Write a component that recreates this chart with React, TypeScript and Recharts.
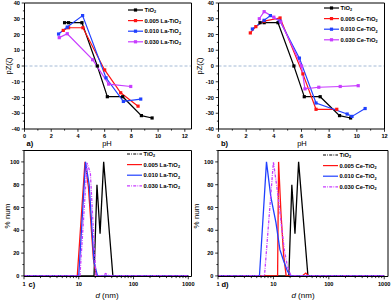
import React from "react";
import { Line, LineChart, ReferenceLine, XAxis, YAxis } from "recharts";

const FONT = "'Liberation Sans', Arial, sans-serif";
const BLACK = "#000000";
const RED = "#ff1414";
const BLUE = "#2040ff";
const VIOLET = "#c83cff";

// zeta potential vs pH (panels a, b)
const tio2PH = [3.0, 3.3, 4.3, 5.45, 6.2, 7.35, 8.75, 9.55];
const tio2Zeta = [27.5, 27.5, 27.5, 0, -19.5, -19.5, -31.5, -33];
const la005PH = [2.9, 3.3, 4.37, 6.0, 7.2, 8.5];
const la005Zeta = [22.6, 24.3, 24.3, -2.5, -17, -25.5];
const la010PH = [2.55, 3.2, 4.35, 6.1, 7.4, 8.7];
const la010Zeta = [20.3, 24.7, 32, -7.5, -22.5, -21];
const la030PH = [2.6, 3.2, 5.1, 6.3, 7.95];
const la030Zeta = [18, 20.5, 4, -11.5, -13];
const ce005PH = [2.3, 2.7, 3.3, 4.45, 6.1, 7.05, 8.55];
const ce005Zeta = [21, 25, 28.5, 30.5, -5, -27.5, -27.5];
const ce010PH = [2.45, 3.3, 3.75, 4.45, 5.85, 7.05, 9.3, 9.65, 10.6];
const ce010Zeta = [23.5, 29, 32, 28.5, 5, -23.5, -30.5, -32, -27];
const ce030PH = [2.95, 3.3, 4.0, 4.5, 6.0, 6.25, 7.25, 8.8, 10.1];
const ce030Zeta = [30, 34.5, 31, 28, 0, -14.5, -13.5, -13, -12.5];

// size distribution (panels c, d)
const tio2D = [1, 19, 21.5, 24.5, 28.5, 42, 1000];
const tio2Num = [0, 0, 80, 37, 100, 0, 0];
const la005D = [1, 9.4, 13, 15, 18.5, 21, 1000];
const la005Num = [0, 0, 100, 78, 15, 0, 0];
const la010D = [1, 10, 13.3, 15.5, 19, 22, 1000];
const la010Num = [0, 0, 100, 80, 12, 0, 0];
const la030D = [1, 10.5, 14.2, 16.3, 18.5, 20.6, 27, 31, 36, 1000];
const la030Num = [0, 0, 99, 90, 40, 0, 0, 2, 0, 0];
const ce005D = [1, 11.9, 12.4, 13.7, 15.3, 17, 33, 38.5, 43, 1000];
const ce005Num = [0, 0, 100, 55, 18, 0, 0, 2.5, 0, 0];
const ce010D = [1, 5.6, 7.5, 9, 11.1, 13.1, 15.1, 18, 20.8, 1000];
const ce010Num = [0, 0, 100, 69, 47, 23, 14, 4, 0, 0];
const ce030D = [1, 6.9, 10, 12, 13.7, 15.7, 18, 20.8, 1000];
const ce030Num = [0, 0, 100, 72, 48, 23, 8, 0, 0];

const pHTicks = [0, 1, 2, 3, 4, 5, 6, 7, 8, 9, 10, 11, 12];
const zetaTicks = [-40, -35, -30, -25, -20, -15, -10, -5, 0, 5, 10, 15, 20, 25, 30, 35, 40];
const numTicks = [0, 10, 20, 30, 40, 50, 60, 70, 80, 90, 100, 110];
const logTicks = [
  1, 2, 3, 4, 5, 6, 7, 8, 9, 10, 20, 30, 40, 50, 60, 70, 80, 90,
  100, 200, 300, 400, 500, 600, 700, 800, 900, 1000,
];

const laNames = ["TiO", "0.005 La-TiO", "0.010 La-TiO", "0.030 La-TiO"];
const ceNames = ["TiO", "0.005 Ce-TiO", "0.010 Ce-TiO", "0.030 Ce-TiO"];
const colors = [BLACK, RED, BLUE, VIOLET];

const zip = (xs: number[], ys: number[]) => xs.map((x, i) => ({ x, y: ys[i] }));

const leftTick = (isMajor: (v: number) => boolean) => (p: any) => {
  const v = p.payload.value;
  const major = isMajor(v);
  const len = major ? 2.8 : 1.6;
  return (
    <g>
      <line x1={p.x - len} x2={p.x} y1={p.y} y2={p.y} stroke={BLACK} strokeWidth={0.8} />
      {major && (
        <text x={p.x - 4.6} y={p.y} dy="0.36em" textAnchor="end" fontSize={5.6} fontWeight="bold" fontFamily={FONT} fill={BLACK}>
          {v}
        </text>
      )}
    </g>
  );
};

const bottomTick = (isMajor: (v: number) => boolean) => (p: any) => {
  const v = p.payload.value;
  const major = isMajor(v);
  const len = major ? 2.8 : 1.6;
  return (
    <g>
      <line x1={p.x} x2={p.x} y1={p.y} y2={p.y + len} stroke={BLACK} strokeWidth={0.8} />
      {major && (
        <text x={p.x} y={p.y + 9} textAnchor="middle" fontSize={5.6} fontWeight="bold" fontFamily={FONT} fill={BLACK}>
          {v}
        </text>
      )}
    </g>
  );
};

const square = (color: string) => (p: any) => (
  <rect key={p.index} x={p.cx - 1.6} y={p.cy - 1.6} width={3.2} height={3.2} fill={color} />
);

function Key({ left, top, names, dashes, markers }: { left: number; top: number; names: string[]; dashes: (string | undefined)[]; markers: boolean }) {
  return (
    <svg style={{ position: "absolute", left, top, overflow: "visible" }} width={64} height={44}>
      {names.map((n, i) => (
        <g key={n} transform={`translate(0, ${i * 10.6})`}>
          <line x1={0} x2={15} y1={0} y2={0} stroke={colors[i]} strokeWidth={1.2} strokeDasharray={dashes[i]} />
          {markers && <rect x={5.9} y={-1.6} width={3.2} height={3.2} fill={colors[i]} />}
          <text x={16.5} y={0} dy="0.36em" fontSize={5.8} fontWeight="bold" fontFamily={FONT} fill={BLACK}>
            {n}
            <tspan fontSize={3.8} dy={1.4}>2</tspan>
          </text>
        </g>
      ))}
    </svg>
  );
}

function ZetaPanel({ left, yWidth, right, xMax, series }: { left: number; yWidth: number; right: number; xMax: number; series: { x: number; y: number }[][] }) {
  return (
    <div style={{ position: "absolute", left, top: 0 }}>
      <LineChart width={196} height={150} margin={{ top: 3, right, bottom: 0, left: 0 }}>
        <XAxis
          type="number"
          dataKey="x"
          domain={[0, xMax]}
          ticks={pHTicks}
          interval={0}
          height={21}
          tickSize={0}
          tickMargin={0}
          tickLine={false}
          stroke={BLACK}
          tick={bottomTick((v) => v % 2 === 0)}
          allowDataOverflow
        />
        <YAxis
          type="number"
          domain={[-40, 40]}
          ticks={zetaTicks}
          interval={0}
          width={yWidth}
          tickSize={0}
          tickMargin={0}
          tickLine={false}
          stroke={BLACK}
          tick={leftTick((v) => v % 10 === 0)}
          allowDataOverflow
        />
        <ReferenceLine y={0} stroke="#8ea8cc" strokeDasharray="3 2" strokeWidth={0.8} />
        <ReferenceLine y={40} stroke={BLACK} strokeWidth={1} />
        <ReferenceLine x={xMax} stroke={BLACK} strokeWidth={1} />
        {series.map((d, i) => (
          <Line
            key={i}
            data={d}
            dataKey="y"
            stroke={colors[i]}
            strokeWidth={1.2}
            dot={square(colors[i])}
            activeDot={false}
            isAnimationActive={false}
          />
        ))}
      </LineChart>
    </div>
  );
}

function SizePanel({ left, yWidth, right, xMax, series }: { left: number; yWidth: number; right: number; xMax: number; series: { x: number; y: number }[][] }) {
  const dashes = [undefined, undefined, undefined, "3 1.2 0.8 1.2"];
  return (
    <div style={{ position: "absolute", left, top: 150 }}>
      <LineChart width={196} height={151} margin={{ top: 0.5, right, bottom: 0, left: 0 }}>
        <XAxis
          type="number"
          dataKey="x"
          scale="log"
          domain={[1, xMax]}
          ticks={logTicks}
          interval={0}
          height={24.5}
          tickSize={0}
          tickMargin={0}
          tickLine={false}
          stroke={BLACK}
          tick={bottomTick((v) => [1, 10, 100, 1000].includes(v))}
          allowDataOverflow
        />
        <YAxis
          type="number"
          domain={[-0.5, 110]}
          ticks={numTicks}
          interval={0}
          width={yWidth}
          tickSize={0}
          tickMargin={0}
          tickLine={false}
          stroke={BLACK}
          tick={leftTick((v) => v % 20 === 0 && v <= 100)}
          allowDataOverflow
        />
        <ReferenceLine y={110} stroke={BLACK} strokeWidth={1} />
        <ReferenceLine x={xMax} stroke={BLACK} strokeWidth={1} />
        {series.map((d, i) => (
          <Line
            key={i}
            data={d}
            dataKey="y"
            stroke={colors[i]}
            strokeWidth={1.3}
            strokeDasharray={dashes[i]}
            dot={false}
            activeDot={false}
            isAnimationActive={false}
          />
        ))}
      </LineChart>
    </div>
  );
}

const title = { fontFamily: FONT, fill: BLACK } as const;

export default function App() {
  const zetaA = [zip(tio2PH, tio2Zeta), zip(la005PH, la005Zeta), zip(la010PH, la010Zeta), zip(la030PH, la030Zeta)];
  const zetaB = [zip(tio2PH, tio2Zeta), zip(ce005PH, ce005Zeta), zip(ce010PH, ce010Zeta), zip(ce030PH, ce030Zeta)];
  const sizeC = [zip(tio2D, tio2Num), zip(la005D, la005Num), zip(la010D, la010Num), zip(la030D, la030Num)];
  const sizeD = [zip(tio2D, tio2Num), zip(ce005D, ce005Num), zip(ce010D, ce010Num), zip(ce030D, ce030Num)];
  const sizeDash = ["3 1.2 0.8 1.2", undefined, undefined, "3 1.2 0.8 1.2"];

  return (
    <div style={{ position: "absolute", left: 0, top: 0, width: 392, height: 301, background: "#fff", overflow: "hidden" }}>
      <ZetaPanel left={0} yWidth={24.5} right={4.5} xMax={12.5} series={zetaA} />
      <ZetaPanel left={196} yWidth={22.5} right={7.5} xMax={12} series={zetaB} />
      <SizePanel left={0} yWidth={24} right={4.5} xMax={1145} series={sizeC} />
      <SizePanel left={196} yWidth={22} right={4} xMax={1170} series={sizeD} />

      <Key left={128} top={10.3} names={laNames} dashes={[]} markers />
      <Key left={324} top={8} names={ceNames} dashes={[]} markers />
      <Key left={127} top={153.5} names={laNames} dashes={sizeDash} markers={false} />
      <Key left={323} top={154.7} names={ceNames} dashes={sizeDash} markers={false} />

      <svg style={{ position: "absolute", left: 0, top: 0 }} width={392} height={301}>
        <text {...title} transform="translate(10.5, 66) rotate(-90)" textAnchor="middle" fontSize={7.5}>pZ(ζ)</text>
        <text {...title} transform="translate(201.5, 66) rotate(-90)" textAnchor="middle" fontSize={7.5}>pZ(ζ)</text>
        <text {...title} x={107} y={145.5} textAnchor="middle" fontSize={7.5}>pH</text>
        <text {...title} x={302} y={145.5} textAnchor="middle" fontSize={7.5}>pH</text>
        <text {...title} x={26.5} y={146} fontSize={7.5} fontWeight="bold">a)</text>
        <text {...title} x={221} y={146} fontSize={7.5} fontWeight="bold">b)</text>
        <text {...title} transform="translate(10, 216) rotate(-90)" textAnchor="middle" fontSize={8}>% num</text>
        <text {...title} transform="translate(199, 216) rotate(-90)" textAnchor="middle" fontSize={8}>% num</text>
        <text {...title} x={107} y={298} textAnchor="middle" fontSize={8}>
          <tspan fontStyle="italic">d</tspan> (nm)
        </text>
        <text {...title} x={303} y={298} textAnchor="middle" fontSize={8}>
          <tspan fontStyle="italic">d</tspan> (nm)
        </text>
        <text {...title} x={28.5} y={286.5} fontSize={7.5} fontWeight="bold">c)</text>
        <text {...title} x={221.5} y={287} fontSize={7.5} fontWeight="bold">d)</text>
      </svg>
    </div>
  );
}
